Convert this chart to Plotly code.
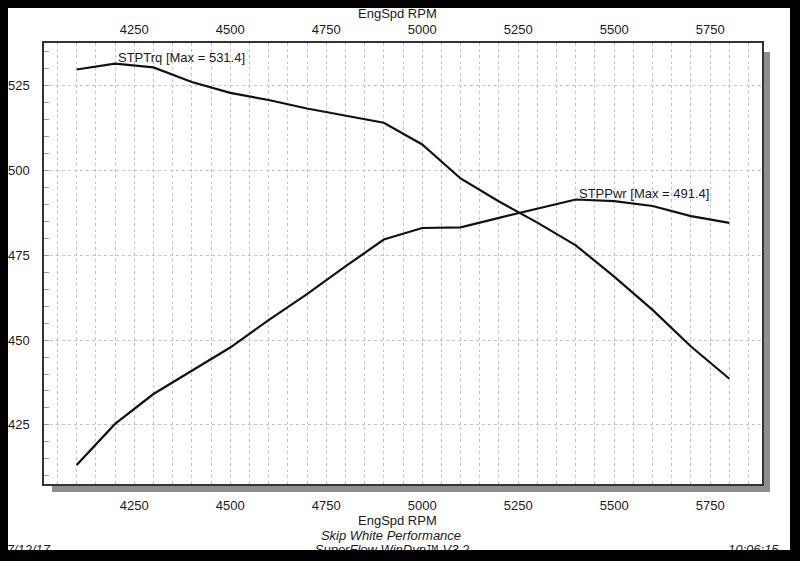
import plotly.graph_objects as go

# ---- data read from the dyno sheet ----
rpm = [4100, 4200, 4300, 4400, 4500, 4600, 4700, 4800, 4900,
       5000, 5100, 5200, 5300, 5400, 5500, 5600, 5700, 5800]
stp_trq = [529.7, 531.4, 530.3, 526.0, 522.8, 520.7, 518.2, 516.2, 514.0,
           507.6, 497.6, 490.8, 484.6, 477.9, 468.7, 458.9, 448.1, 438.6]
stp_pwr = [413.2, 425.3, 434.1, 441.0, 447.8, 455.9, 463.5, 471.7, 479.6,
           483.0, 483.2, 486.0, 488.8, 491.4, 490.9, 489.5, 486.5, 484.5]

x_ticks = [4250, 4500, 4750, 5000, 5250, 5500, 5750]
y_ticks = [425, 450, 475, 500, 525]
x_title = "EngSpd RPM"
trq_name = "STPTrq"
pwr_name = "STPPwr"
footer_title = "Skip White Performance"
footer_texts = ["7/12/17", "SuperFlow WinDyn™ V3.2", "10:06:15"]

FONT = "Liberation Sans, Arial, sans-serif"
INK = "#1a1a1a"
GRID = "#c4c4c4"

fig = go.Figure()

fig.add_trace(go.Scatter(x=rpm, y=stp_trq, mode="lines", name=trq_name,
                         line=dict(color="#111111", width=2.2), hoverinfo="skip"))
fig.add_trace(go.Scatter(x=rpm, y=stp_pwr, mode="lines", name=pwr_name,
                         line=dict(color="#111111", width=2.2), hoverinfo="skip"))

# footer strip (clipped at the bottom edge of the page)
fig.add_trace(go.Scatter(
    x=[50, 392, 728], y=[-1, -1, -1], mode="text", text=footer_texts,
    textposition=["middle left", "middle center", "middle right"],
    textfont=dict(family=FONT, size=13, color=INK, style="italic"),
    xaxis="x3", yaxis="y3", cliponaxis=True, hoverinfo="skip", showlegend=False))
fig.add_trace(go.Scatter(
    x=[391], y=[13.3], mode="text", text=[footer_title],
    textposition="middle center",
    textfont=dict(family=FONT, size=13, color=INK, style="italic"),
    xaxis="x3", yaxis="y3", cliponaxis=True, hoverinfo="skip", showlegend=False))

# annotations for maxima
i_t = stp_trq.index(max(stp_trq))
i_p = stp_pwr.index(max(stp_pwr))
ann = [
    dict(x=rpm[i_t], y=stp_trq[i_t], xref="x", yref="y",
         text=f"{trq_name} [Max = {max(stp_trq):.1f}]", showarrow=False,
         xanchor="left", yanchor="middle", xshift=1, yshift=6,
         font=dict(family=FONT, size=13, color=INK)),
    dict(x=rpm[i_p], y=stp_pwr[i_p], xref="x", yref="y",
         text=f"{pwr_name} [Max = {max(stp_pwr):.1f}]", showarrow=False,
         xanchor="left", yanchor="middle", xshift=1, yshift=6,
         font=dict(family=FONT, size=13, color=INK)),
    dict(x=(397 - 8) / 782, y=(550 - 14) / 542, xref="paper", yref="paper",
         text=x_title, showarrow=False, xanchor="center", yanchor="middle",
         font=dict(family=FONT, size=13, color=INK)),
    dict(x=(397 - 8) / 782, y=(550 - 520) / 542, xref="paper", yref="paper",
         text=x_title, showarrow=False, xanchor="center", yanchor="middle",
         font=dict(family=FONT, size=13, color=INK)),
]

shapes = [
    # white page on black scan border
    dict(type="rect", xref="paper", yref="paper", x0=0, x1=1, y0=0, y1=1,
         fillcolor="white", line=dict(width=0), layer="below"),
    # drop shadow of the plot frame
    dict(type="rect", xref="x domain", yref="y domain",
         x0=1.0, x1=1 + 8 / 718, y0=-8 / 441, y1=1 - 9 / 441,
         fillcolor="#8e8e8e", line=dict(width=0), layer="below"),
    dict(type="rect", xref="x domain", yref="y domain",
         x0=8 / 718, x1=1 + 8 / 718, y0=-8 / 441, y1=0,
         fillcolor="#8e8e8e", line=dict(width=0), layer="below"),
]

x_range = [4015, 5885]
y_range = [407.6, 537.5]
xdom = [(44 - 8) / 782, (762 - 8) / 782]
ydom = [(550 - 484) / 542, (550 - 43) / 542]

fig.update_layout(
    width=800, height=561,
    margin=dict(l=8, r=10, t=8, b=11, pad=0),
    paper_bgcolor="black", plot_bgcolor="white",
    showlegend=False,
    font=dict(family=FONT, size=13, color=INK),
    annotations=ann, shapes=shapes,
    xaxis=dict(domain=xdom, range=x_range, anchor="y",
               tickvals=x_ticks, ticks="", ticklabelstandoff=9,
               showline=True, linecolor="#333333", linewidth=1.5, mirror=True,
               showgrid=True, gridcolor=GRID, griddash="dot", gridwidth=1,
               minor=dict(dtick=50, tick0=4000, showgrid=True, gridcolor=GRID,
                          griddash="dot", gridwidth=1, ticks=""),
               zeroline=False, fixedrange=True,
               tickfont=dict(family=FONT, size=13, color=INK)),
    xaxis2=dict(domain=xdom, range=x_range, anchor="y", overlaying="x", side="top",
                tickvals=x_ticks, ticks="", ticklabelstandoff=5,
                showline=False, showgrid=False, zeroline=False, fixedrange=True,
                tickfont=dict(family=FONT, size=13, color=INK)),
    yaxis=dict(domain=ydom, range=y_range, anchor="x",
               tickvals=y_ticks, ticks="", ticklabelstandoff=10,
               showline=True, linecolor="#333333", linewidth=1.5, mirror=True,
               showgrid=True, gridcolor=GRID, griddash="dot", gridwidth=1,
               minor=dict(dtick=5, tick0=0, ticks="inside", ticklen=5,
                          tickcolor="#9a9a9a", tickwidth=1, showgrid=False),
               zeroline=False, fixedrange=True,
               tickfont=dict(family=FONT, size=13, color=INK)),
    xaxis3=dict(domain=[0, 1], range=[8, 790], anchor="y3", visible=False,
                fixedrange=True),
    yaxis3=dict(domain=[0, 24 / 542], range=[0, 24], anchor="x3", visible=False,
                fixedrange=True),
)

# dummy reference so top axis subplot exists
fig.add_trace(go.Scatter(x=rpm, y=stp_trq, xaxis="x2", yaxis="y", mode="lines",
                         line=dict(width=0, color="rgba(0,0,0,0)"),
                         hoverinfo="skip", showlegend=False))

fig.write_html("out.html")
